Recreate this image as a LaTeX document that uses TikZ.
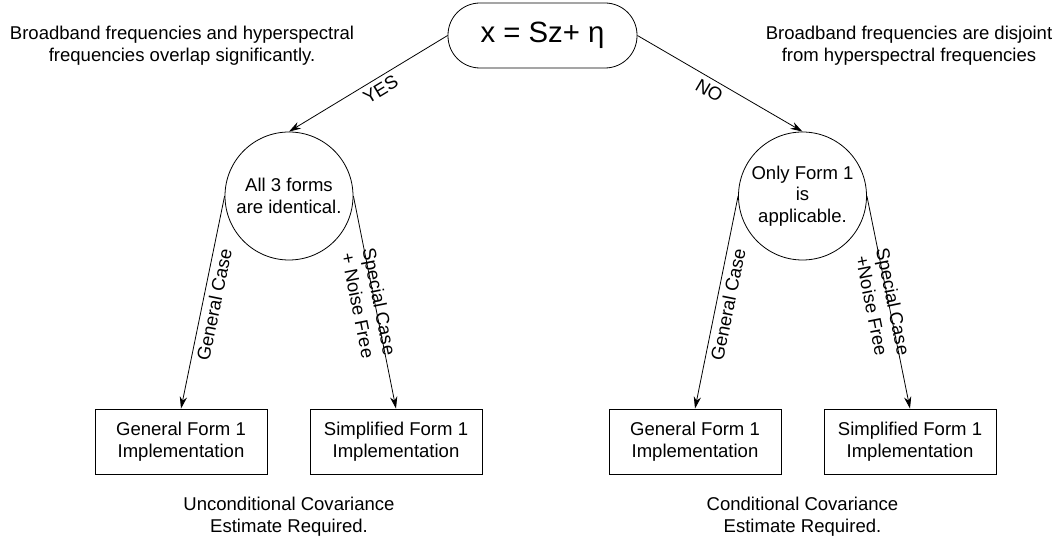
\documentclass[tikz,border=0pt]{standalone}
\usepackage{fontspec}
\setmainfont{Liberation Sans}
\usepackage{tikz}
\usetikzlibrary{arrows.meta}

\begin{document}
\begin{tikzpicture}[x=0.75pt, y=-0.75pt, line width=0.6pt,
    font=\fontsize{13.9pt}{16.3pt}\selectfont,
    every edge/.style={draw, -{Stealth[length=9pt, width=5.5pt]}},
    formcircle/.style={draw, circle, minimum size=96pt, inner sep=0pt, align=center},
    implbox/.style={draw, rectangle, minimum width=129pt, minimum height=48.75pt, align=center},
    note/.style={align=center}]
    % Decision tree for the observation model x = Sz + eta
    \useasboundingbox (0, 0) rectangle (1060, 541);

    \node (model) [draw, rectangle, rounded corners=24pt, minimum width=141.75pt, minimum height=48.75pt,
        font=\fontsize{22pt}{26pt}\selectfont] at (542.5, 35.5) {x = Sz+ η};

    \node (overlap) [note] at (182, 46) {Broadband frequencies and hyperspectral\\frequencies overlap significantly.};
    \node (disjoint) [note] at (909, 46) {Broadband frequencies are disjoint\\from hyperspectral frequencies};

    \node (allforms) [formcircle] at (289, 196) {All 3 forms\\are identical.};
    \node (onlyform) [formcircle] at (802.5, 196) {Only Form 1\\is\\applicable.};

    \node (genL) [implbox] at (181, 441.5) {General Form 1\\Implementation};
    \node (simpL) [implbox] at (396, 441.5) {Simplified Form 1\\Implementation};
    \node (genR) [implbox] at (695, 441.5) {General Form 1\\Implementation};
    \node (simpR) [implbox] at (910, 441.5) {Simplified Form 1\\Implementation};

    \node (uncond) [note] at (289, 517) {Unconditional Covariance\\Estimate Required.};
    \node (cond) [note] at (802.5, 517) {Conditional Covariance\\Estimate Required.};

    \draw (model.west) edge node[pos=0.46, sloped, below] {YES} (allforms.north);
    \draw (model.east) edge node[pos=0.47, sloped, below] {NO} (onlyform.north);

    \draw (allforms.west) edge node[midway, sloped, below] {General Case} (genL.north);
    \draw (allforms.east) edge node[midway, sloped, align=center, yshift=-4.5pt] {Special Case\\+ Noise Free} (simpL.north);
    \draw (onlyform.west) edge node[midway, sloped, below] {General Case} (genR.north);
    \draw (onlyform.east) edge node[midway, sloped, align=center, yshift=-4.5pt] {Special Case\\+Noise Free} (simpR.north);

\end{tikzpicture}
\end{document}
